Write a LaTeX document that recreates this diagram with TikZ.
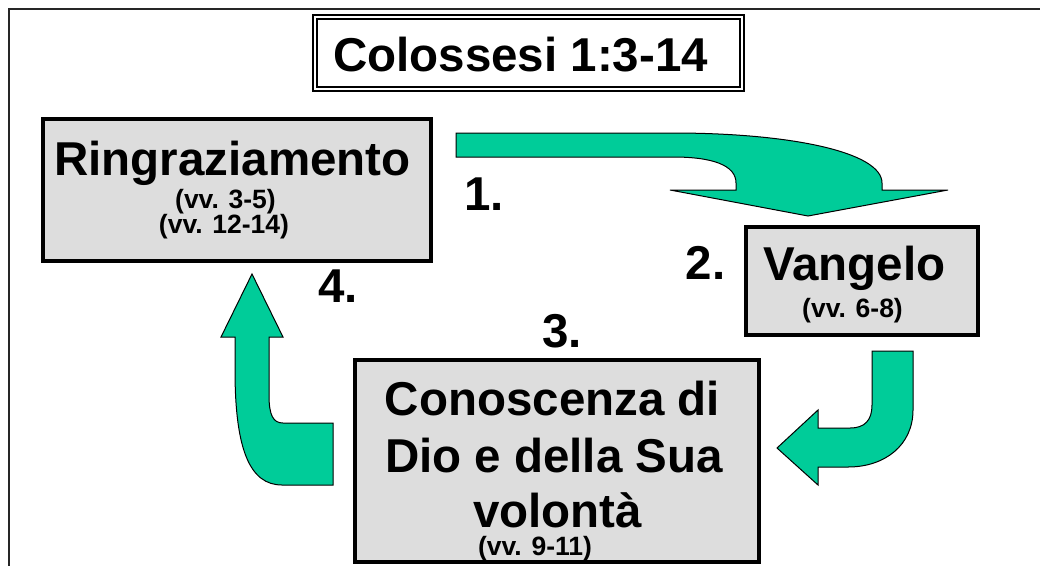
\documentclass[tikz,border=0pt]{standalone}
\usepackage{fontspec}
\setmainfont{Liberation Sans}
\definecolor{arrowgreen}{RGB}{0,204,153}
\definecolor{boxgray}{RGB}{221,221,221}
\begin{document}
\begin{tikzpicture}[x=1pt,y=-1pt,
  bigtxt/.style={font=\fontsize{47.5}{56}\selectfont\bfseries, inner sep=0pt, anchor=base},
  smalltxt/.style={font=\fontsize{26.5}{30}\selectfont\bfseries, inner sep=0pt, anchor=base},
  graybox/.style={draw=black, fill=boxgray, line width=4pt, inner sep=0pt},
  blockarrow/.style={fill=arrowgreen, draw=black, line width=1pt, line join=miter}]
\path[use as bounding box, fill=white] (0,0) rectangle (1040,565);
% frame
\coordinate (fbl) at (9,566);
\coordinate (ftl) at (9,9);
\coordinate (ftr) at (1041,9);
\draw[line width=2pt, black!85] (fbl) -- (ftl) -- (ftr);
% title
\node[draw=black, line width=1.6pt, minimum width=431pt, minimum height=76pt, inner sep=0pt] (titleout) at (528.5,53) {};
\node[draw=black, line width=2pt, minimum width=423pt, minimum height=68pt, inner sep=0pt] (titlein) at (528.5,53) {};
\node[bigtxt] (title) at (520.5,71.5) {Colossesi 1:3-14};
% boxes
\node[graybox, minimum width=388pt, minimum height=142pt] (ring) at (237,190) {};
\node[graybox, minimum width=232pt, minimum height=108pt] (vang) at (862,281) {};
\node[graybox, minimum width=404pt, minimum height=202pt] (cono) at (557,461) {};
% box texts
\node[bigtxt] (ringt) at (232.5,175) {Ringraziamento};
\node[smalltxt] (ringa) at (225.5,208) {(vv. 3-5)};
\node[smalltxt] (ringb) at (224,233) {(vv. 12-14)};
\node[bigtxt] (vangt) at (854.5,280) {Vangelo};
\node[smalltxt] (vanga) at (852.5,317) {(vv. 6-8)};
\node[bigtxt] (conoa) at (552.5,415) {Conoscenza di};
\node[bigtxt] (conob) at (554,472) {Dio e della Sua};
\node[bigtxt] (conoc) at (557.5,527) {volontà};
\node[smalltxt] (conod) at (535,555) {(vv. 9-11)};
% numbers
\node[bigtxt] (n1) at (484,210) {1.};
\node[bigtxt] (n2) at (705.5,279) {2.};
\node[bigtxt] (n3) at (562,347) {3.};
\node[bigtxt] (n4) at (338,302) {4.};
% arrow 1: Ringraziamento -> Vangelo
\draw[blockarrow] (456,133) -- (673,133) .. controls (790,133) and (882,152) .. (882,183)
  -- (882,190) -- (948,190) -- (808,216) -- (670,190) -- (736,190) -- (736,183)
  .. controls (736,165) and (712,157) .. (673,157) -- (456,157) -- cycle;
% arrow 2: Vangelo -> Conoscenza
\draw[blockarrow] (872,351) -- (913,351) -- (913,410)
  .. controls (913,445) and (885,467) .. (848,467) -- (818,467) -- (818,485)
  -- (777,448) -- (818,410) -- (818,428) -- (850,428)
  .. controls (865,428) and (872,420) .. (872,405) -- cycle;
% arrow 3: Conoscenza -> Ringraziamento
\draw[blockarrow] (252,274) -- (283,337) -- (269,337) -- (269,395)
  .. controls (269,415) and (273,423) .. (283,423) -- (333,423) -- (333,485)
  -- (282,485) .. controls (250,485) and (235,450) .. (235,370) -- (235,337)
  -- (221,337) -- cycle;
\end{tikzpicture}
\end{document}
